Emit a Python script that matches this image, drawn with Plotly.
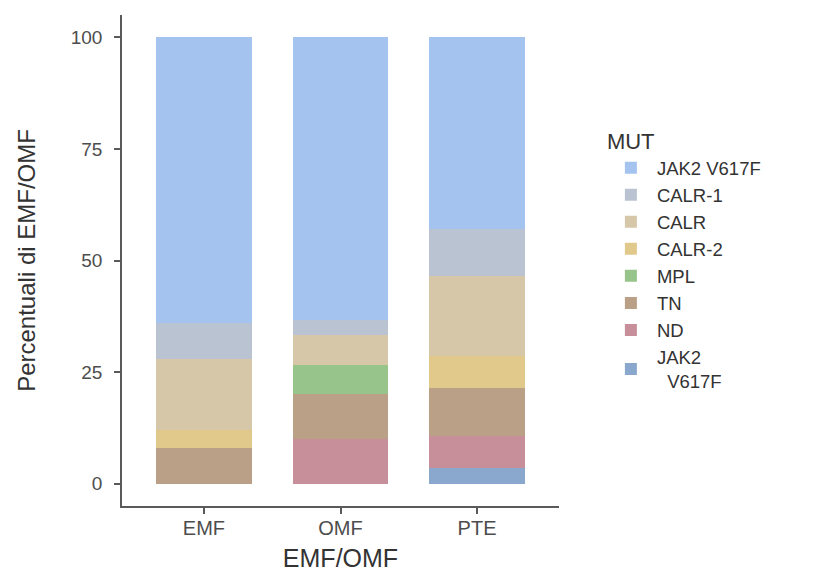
import plotly.graph_objects as go

categories = ["EMF", "OMF", "PTE"]

# stacked bottom -> top
series_names = ["JAK2<br>  V617F", "ND", "TN", "MPL", "CALR-2", "CALR", "CALR-1", "JAK2 V617F"]
jak2_low = [0, 0, 3.57]
nd = [0, 10.0, 7.14]
tn = [8.0, 10.0, 10.71]
mpl = [0, 6.67, 0]
calr2 = [4.0, 0, 7.14]
calr = [16.0, 6.67, 17.86]
calr1 = [8.0, 3.33, 10.71]
jak2_top = [64.0, 63.33, 42.86]
series_values = [jak2_low, nd, tn, mpl, calr2, calr, calr1, jak2_top]
colors = ["#8AA7CD", "#C68F99", "#B9A087", "#97C48B", "#E0C98A", "#D6C7A9", "#BAC3D1", "#A4C3EF"]

y_ticks = [0, 25, 50, 75, 100]

FONT = "Liberation Sans, Arial, sans-serif"

fig = go.Figure()
for name, vals, col in zip(series_names, series_values, colors):
    fig.add_trace(go.Bar(
        x=categories, y=vals, name=name,
        marker=dict(color=col, line=dict(width=0)),
        width=0.7,
    ))

fig.update_layout(
    width=837, height=575,
    barmode="stack",
    plot_bgcolor="white", paper_bgcolor="white",
    margin=dict(l=122, r=278, t=15, b=69, autoexpand=False),
    font=dict(family=FONT, color="#4d4d4d"),
    legend=dict(
        title=dict(text="MUT", font=dict(size=22, color="#333333")),
        font=dict(size=18.5, color="#333333"),
        traceorder="reversed",
        itemwidth=42,
        x=1.105, xanchor="left",
        y=0.5, yanchor="middle",
        bgcolor="rgba(0,0,0,0)",
    ),
    showlegend=True,
)

fig.update_xaxes(
    range=[-0.6, 2.6],
    automargin=False,
    showline=True, linecolor="#5a5a5a", linewidth=1.6,
    ticks="outside", ticklen=6, tickwidth=1.6, tickcolor="#5a5a5a",
    tickfont=dict(size=20, color="#4d4d4d"),
    ticklabelstandoff=-3,
    showgrid=False, zeroline=False,
    title=dict(text="EMF/OMF", font=dict(size=25, color="#333333"), standoff=12),
)
fig.update_yaxes(
    range=[-5, 105],
    automargin=False,
    tickvals=y_ticks, ticktext=[str(v) for v in y_ticks],
    showline=True, linecolor="#5a5a5a", linewidth=1.6,
    ticks="outside", ticklen=6, tickwidth=1.6, tickcolor="#5a5a5a",
    tickfont=dict(size=19, color="#4d4d4d"),
    ticklabelstandoff=8,
    showgrid=False, zeroline=False,
    title=dict(text="Percentuali di EMF/OMF", font=dict(size=24, color="#333333"), standoff=28),
)

fig.write_html("out.html", config={"displayModeBar": False},
               post_script="document.body.style.margin='0';")
